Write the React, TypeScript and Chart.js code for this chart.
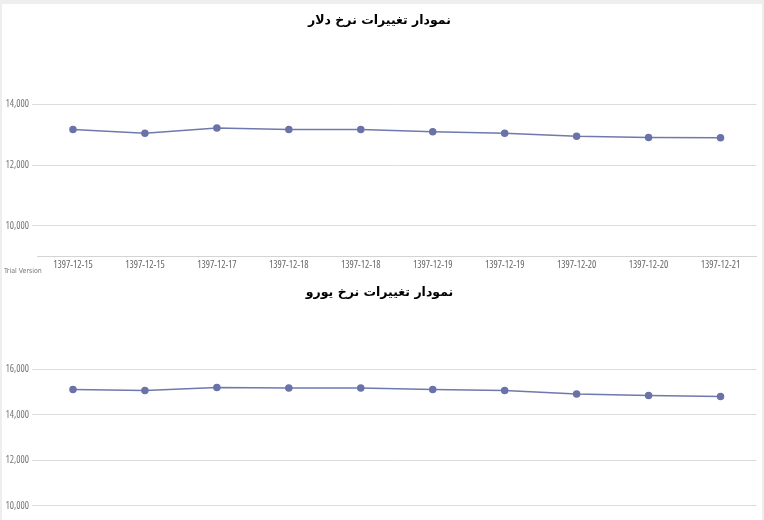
import { useEffect, useRef } from "react";
import { Chart, ChartConfiguration, registerables } from "chart.js";

Chart.register(...registerables);

const dateLabels = [
  "1397-12-15",
  "1397-12-15",
  "1397-12-17",
  "1397-12-18",
  "1397-12-18",
  "1397-12-19",
  "1397-12-19",
  "1397-12-20",
  "1397-12-20",
  "1397-12-21",
];
const dollarRates = [13170, 13050, 13220, 13170, 13170, 13100, 13050, 12950, 12910, 12900];
const euroRates = [15120, 15070, 15210, 15180, 15180, 15120, 15070, 14920, 14860, 14810];
const dollarTicks = [10000, 12000, 14000];
const euroTicks = [10000, 12000, 14000, 16000];

const dollarTitle = "نمودار تغییرات نرخ دلار";
const euroTitle = "نمودار تغییرات نرخ یورو";

const tickFont = "'Open Sans', sans-serif";
// chart.js puts weight straight into ctx.font, so the stretch keyword rides along there
const tickWeight = "normal condensed";

interface RateChartProps {
  title: string;
  values: number[];
  tickValues: number[];
  min: number;
  max: number;
  titleGap: number;
}

function RateChart({ title, values, tickValues, min, max, titleGap }: RateChartProps) {
  const canvasRef = useRef<HTMLCanvasElement>(null);
  const chartRef = useRef<Chart | null>(null);

  useEffect(() => {
    if (!canvasRef.current) return;
    if (chartRef.current) chartRef.current.destroy();

    const config: ChartConfiguration = {
      type: "line",
      data: {
        labels: dateLabels,
        datasets: [
          {
            data: values,
            borderColor: "#7079ad",
            backgroundColor: "#6a73a8",
            pointBackgroundColor: "#6a73a8",
            pointBorderColor: "#6a73a8",
            borderWidth: 1.5,
            pointRadius: 3,
            tension: 0,
          },
        ],
      },
      options: {
        animation: false,
        responsive: true,
        maintainAspectRatio: false,
        layout: { padding: { left: 0, right: 5, top: 0, bottom: 0 } },
        plugins: {
          legend: { display: false },
          tooltip: { enabled: false },
          title: {
            display: true,
            text: title,
            color: "#000",
            font: { family: "'DejaVu Sans', sans-serif", size: 12.5, weight: "bold" },
            padding: { top: 9, bottom: titleGap },
          },
        },
        scales: {
          x: {
            offset: true,
            grid: { display: false, drawTicks: false },
            border: { display: true, color: "#d4d4d4" },
            ticks: {
              color: "#666",
              font: { family: tickFont, size: 10, weight: tickWeight },
              padding: 2.5,
              maxRotation: 0,
              autoSkip: false,
            },
            afterFit: (scale: any) => {
              scale.height = 22.6;
            },
          },
          y: {
            min,
            max,
            grid: { color: "#dcdcdc", tickLength: 5, drawTicks: true },
            border: { display: false },
            ticks: {
              color: "#777",
              font: { family: tickFont, size: 10, weight: tickWeight },
              padding: 3,
              callback: (v: any) => Number(v).toLocaleString("en-US"),
            },
            afterBuildTicks: (scale: any) => {
              scale.ticks = tickValues.map((v) => ({ value: v }));
            },
            afterFit: (scale: any) => {
              scale.width = 35;
            },
          },
        },
      },
    } as any;

    chartRef.current = new Chart(canvasRef.current, config);
    return () => {
      if (chartRef.current) {
        chartRef.current.destroy();
        chartRef.current = null;
      }
    };
  }, [title, values, tickValues, min, max, titleGap]);

  return <canvas ref={canvasRef} />;
}

export default function App() {
  useEffect(() => {
    document.body.style.margin = "0";
    document.body.style.overflow = "hidden";
  }, []);

  return (
    <div style={{ position: "relative", width: 764, height: 520, background: "#eeeeee", overflow: "hidden" }}>
      <div style={{ position: "absolute", left: 2, top: 4, width: 760, height: 540, background: "#fff" }}>
        <div style={{ position: "absolute", left: 0, top: 0, width: 760, height: 275 }}>
          <RateChart title={dollarTitle} values={dollarRates} tickValues={dollarTicks} min={9000} max={16000} titleGap={15.5} />
        </div>
        <div
          style={{
            position: "absolute",
            left: 2,
            top: 263,
            fontFamily: "'DejaVu Sans Condensed', sans-serif",
            fontSize: 7,
            color: "#777",
            whiteSpace: "nowrap",
          }}
        >
          Trial Version
        </div>
        <div style={{ position: "absolute", left: 0, top: 272, width: 760, height: 275 }}>
          <RateChart title={euroTitle} values={euroRates} tickValues={euroTicks} min={9000} max={18000} titleGap={24.1} />
        </div>
      </div>
    </div>
  );
}
